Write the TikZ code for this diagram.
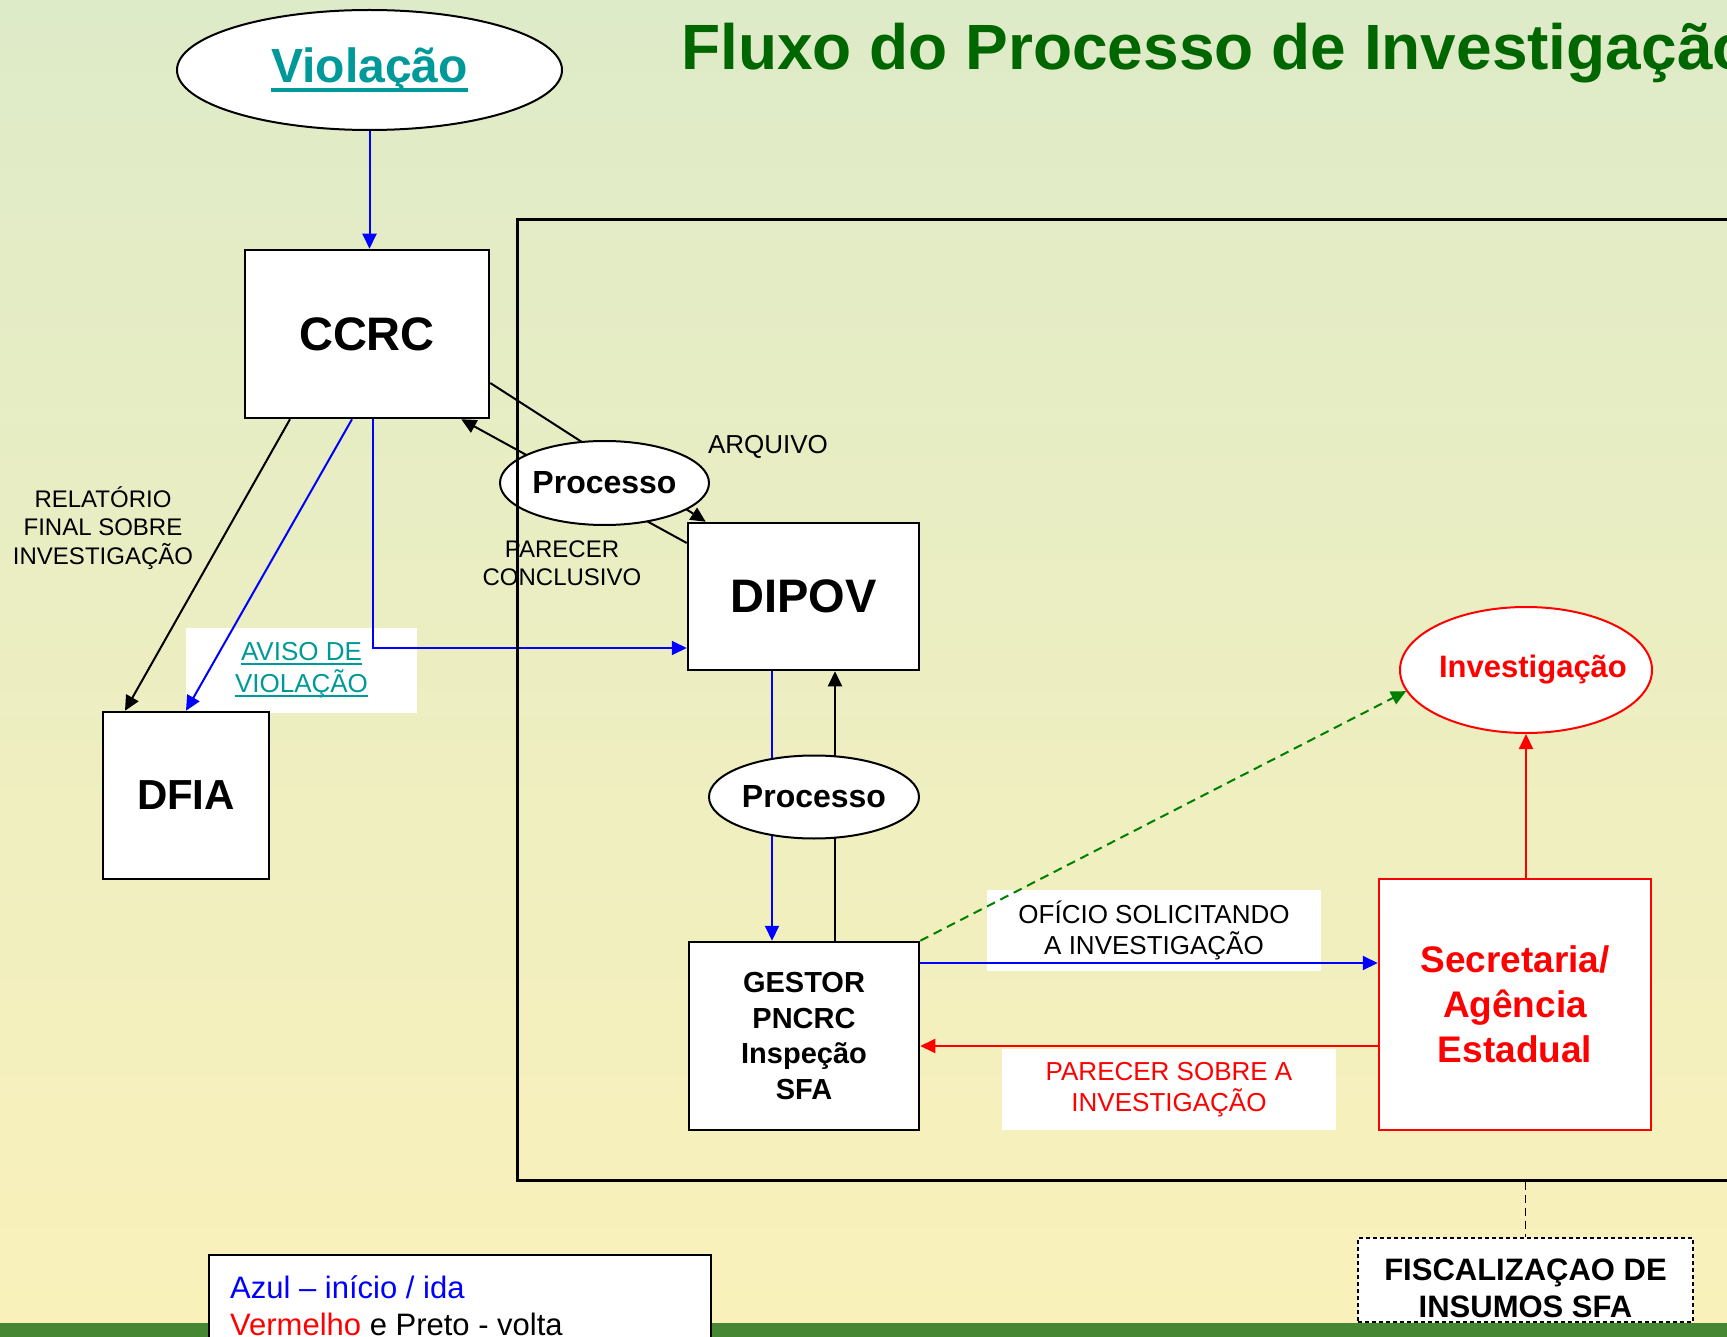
\documentclass[tikz,border=0pt]{standalone}
\usepackage{fontspec}
\setmainfont{Liberation Sans}
\usetikzlibrary{shapes.geometric,arrows.meta}
\definecolor{verdetit}{RGB}{0,102,0}
\definecolor{petroleo}{RGB}{0,153,153}
\definecolor{verdeseta}{RGB}{0,128,0}
\definecolor{fundoA}{RGB}{222,235,200}
\definecolor{fundoB}{RGB}{245,245,226}
\definecolor{fundoC}{RGB}{250,241,186}
\definecolor{faixa}{RGB}{70,135,52}
\newcommand{\tam}[2]{\fontsize{#1}{#2}\selectfont}
\newcommand{\sublinha}[3]{\leavevmode\setbox0=\hbox{#3}\rlap{\copy0}\rule[-#1]{\wd0}{#2}}
\begin{document}
\begin{tikzpicture}[x=1pt,y=-1pt]
		\tikzstyle{caixa}=[draw,
			fill=white,
			line width=2.5pt,
			];
		\tikzstyle{elipse}=[ellipse,
			draw,
			fill=white,
			line width=2pt,
			inner sep=0pt,
			];
		\tikzstyle{rotulo}=[fill=white,
			inner sep=0pt,
			align=center,
			];
		\tikzstyle{seta}=[line width=2pt,
			-{Triangle[length=15pt,width=14pt]},
			];

		\useasboundingbox (0,0) rectangle (1727,1337);
		\clip (0,0) rectangle (1727,1337);
		\shade [top color=fundoA, middle color=fundoB, bottom color=fundoC] (0,0) rectangle (1727,1337);
		\fill [faixa] (0,1323) rectangle (1727,1337);

		\node [anchor=base west, inner sep=0pt, text=verdetit, font=\bfseries\tam{64}{70}] (titulo) at (681,69.5) {Fluxo do Processo de Investigação};

		\node [rotulo, minimum width=231pt, minimum height=85pt, text=petroleo, font=\tam{26}{32}] (aviso) at (301.5,670.5) {\sublinha{4pt}{2pt}{AVISO DE}\\\sublinha{4pt}{2pt}{VIOLAÇÃO}};
		\node [rotulo, minimum width=334pt, minimum height=81pt, font=\tam{26}{31}] (oficio) at (1154,930.5) {OFÍCIO SOLICITANDO\\A INVESTIGAÇÃO};
		\node [rotulo, minimum width=334pt, minimum height=81pt, text=red, font=\tam{26}{31}] (parecersobre) at (1169,1089.5) {PARECER SOBRE A\\INVESTIGAÇÃO};

		\node [align=center, font=\tam{24}{28.7}] (relatorio) at (103,528) {RELATÓRIO\\FINAL SOBRE\\INVESTIGAÇÃO};
		\node [font=\tam{26}{30}] (arquivo) at (768,447) {ARQUIVO};
		\node [align=center, font=\tam{24}{27.7}] (parecer) at (562,563) {PARECER\\CONCLUSIVO};

		\node [elipse, minimum width=385pt, minimum height=120pt, text=petroleo, font=\bfseries\tam{48}{54}] (violacao) at (369.5,70) {\sublinha{10pt}{4.3pt}{Violação}};
		\node [caixa, minimum width=244pt, minimum height=168pt, font=\bfseries\tam{47}{52}] (ccrc) at (367,334) {CCRC};
		\node [caixa, minimum width=166pt, minimum height=167pt, font=\bfseries\tam{42}{48}] (dfia) at (186,795.5) {DFIA};
		\node [caixa, minimum width=231pt, minimum height=147pt, font=\bfseries\tam{47}{52}] (dipov) at (803.5,596.5) {DIPOV};
		\node [caixa, minimum width=230pt, minimum height=188pt, align=center, font=\bfseries\tam{29}{35.5}] (gestor) at (804,1036) {GESTOR\\PNCRC\\Inspeção\\SFA};
		\node [caixa, draw=red, minimum width=272pt, minimum height=251pt, align=center, text=red, font=\bfseries\tam{37}{45}] (secretaria) at (1515,1004.5) {Secretaria/\\Agência\\Estadual};
		\node [elipse, draw=red, minimum width=252pt, minimum height=126pt, text=red, font=\bfseries\tam{31}{36}] (investigacao) at (1526,670) {\makebox[0pt]{\hspace{14pt}Investigação}};

		\draw [seta, blue] (violacao.south) -- (violacao.south |- ccrc.north);
		\draw [seta] ([xshift=-77pt]ccrc.south) -- ([xshift=-61pt]dfia.north);
		\draw [seta, blue] ([xshift=-15pt]ccrc.south) -- (dfia.north);
		\draw [seta, blue] ([xshift=6pt]ccrc.south) |- ([yshift=-51.5pt]dipov.west);
		\draw [seta] ([yshift=-49pt]ccrc.east) -- ([xshift=19pt]dipov.north west);
		\draw [seta] ([yshift=53.5pt]dipov.west) -- ([xshift=-29pt]ccrc.south east);
		\draw [seta, blue] ([xshift=-31.5pt]dipov.south) -- ([xshift=-32pt]gestor.north);
		\draw [seta] ([xshift=31pt]gestor.north) -- ([xshift=31.5pt]dipov.south);
		\draw [seta, blue] ([yshift=73pt]gestor.east) -- ([yshift=41.5pt]secretaria.west);
		\draw [seta, red] ([yshift=-41.5pt]secretaria.west) -- ([yshift=-10pt]gestor.east);
		\draw [seta, red] (secretaria.north -| investigacao.south) -- (investigacao.south);
		\draw [seta, verdeseta, dash pattern=on 9pt off 6pt] (gestor.north east) -- (investigacao.190);

		\node [elipse, minimum width=209pt, minimum height=84pt, font=\bfseries\tam{32}{36}] (proc1) at (604.5,483) {Processo};
		\node [elipse, minimum width=210pt, minimum height=83pt, font=\bfseries\tam{32}{36}] (proc2) at (814,797) {Processo};

		\node [draw, line width=3pt, minimum width=1243pt, minimum height=960pt] (area) at (1138.5,700) {};

		\node [draw, fill=white, line width=2pt, dash pattern=on 4pt off 3pt, minimum width=335pt, minimum height=84pt] (fiscal) at (1525.5,1280) {};
		\node [align=center, font=\bfseries\tam{31}{37}] (fiscaltexto) at (1525.5,1288) {FISCALIZAÇAO DE\\INSUMOS SFA};
		\draw [line width=1.5pt, dash pattern=on 8pt off 5pt] (area.south -| fiscal.north) -- (fiscal.north);

		\node [draw, fill=white, line width=2.5pt, minimum width=502pt, minimum height=140pt] (legenda) at (460,1325) {};
		\node [anchor=base west, inner sep=0pt, text=blue, font=\tam{31}{37}] (legazul) at (230,1298) {Azul – início / ida};
		\node [anchor=base west, inner sep=0pt, font=\tam{31}{37}] (legvermelho) at (230,1335) {\textcolor{red}{Vermelho} e Preto - volta};
	\end{tikzpicture}
\end{document}
